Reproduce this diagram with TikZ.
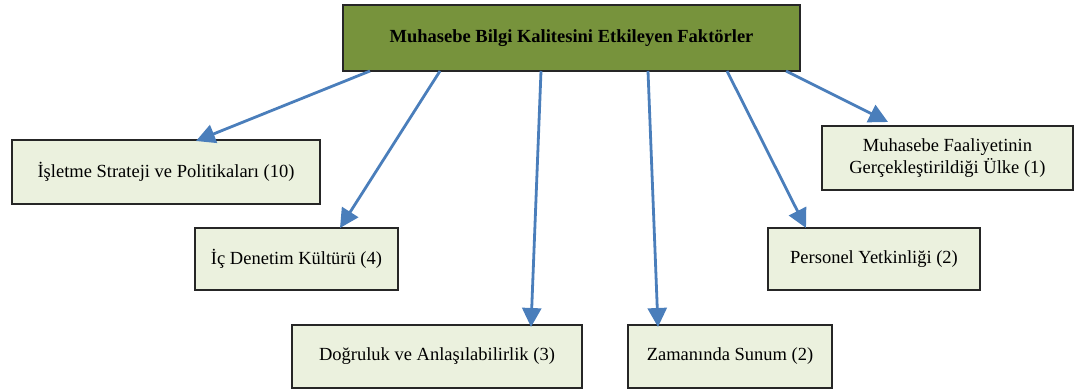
\documentclass[tikz,border=0pt]{standalone}
\usepackage{fontspec}
\setmainfont{Liberation Serif}
\usetikzlibrary{arrows.meta}
\definecolor{olive}{HTML}{77933C}
\definecolor{pale}{HTML}{EBF1DE}
\definecolor{arrblue}{HTML}{4A7EBB}
\begin{document}
\begin{tikzpicture}[x=1pt,y=-1pt,
  boxstyle/.style={draw=black!85,line width=1.1pt,fill=pale,inner sep=0pt,outer sep=0pt,font=\fontsize{18.5}{21.5}\selectfont,align=center},
  topstyle/.style={draw=black!85,line width=1.3pt,fill=olive,inner sep=0pt,outer sep=0pt,font=\bfseries\fontsize{18.5}{21.5}\selectfont},
  arr/.style={draw=arrblue,line width=2.8pt,-{Triangle[length=19pt,width=19pt]}}]
\useasboundingbox (0,0) rectangle (1074,391);
\node[topstyle,minimum width=457pt,minimum height=66pt] (top) at (571.5,38) {Muhasebe Bilgi Kalitesini Etkileyen Faktörler};
\node[boxstyle,minimum width=308pt,minimum height=64pt] (b1) at (166,172) {İşletme Strateji ve Politikaları (10)};
\node[boxstyle,minimum width=203pt,minimum height=62pt] (b2) at (296.5,259) {İç Denetim Kültürü (4)};
\node[boxstyle,minimum width=290pt,minimum height=63pt] (b3) at (437,356.5) {Doğruluk ve Anlaşılabilirlik (3)};
\node[boxstyle,minimum width=204pt,minimum height=63pt] (b4) at (730,356.5) {Zamanında Sunum (2)};
\node[boxstyle,minimum width=212pt,minimum height=62pt] (b5) at (874,259) {Personel Yetkinliği (2)};
\node[boxstyle,minimum width=251pt,minimum height=64pt] (b6) at (947.5,158) {Muhasebe Faaliyetinin\\Gerçekleştirildiği Ülke (1)};
\coordinate (s1) at (370,0); \coordinate (e1) at (196,0);
\coordinate (s2) at (440,0); \coordinate (e2) at (340,0);
\coordinate (s3) at (541,0); \coordinate (e3) at (531,0);
\coordinate (s4) at (648,0); \coordinate (e4) at (658,0);
\coordinate (s5) at (727,0); \coordinate (e5) at (806,0);
\coordinate (s6) at (786,0); \coordinate (e6) at (888,0);
\draw[arr] (top.south -| s1) -- ([yshift=-1pt]b1.north -| e1);
\draw[arr] (top.south -| s2) -- (b2.north -| e2);
\draw[arr] (top.south -| s3) -- ([yshift=-2pt]b3.north -| e3);
\draw[arr] (top.south -| s4) -- ([yshift=-2pt]b4.north -| e4);
\draw[arr] (top.south -| s5) -- (b5.north -| e5);
\draw[arr] (top.south -| s6) -- ([yshift=4pt]b6.north -| e6);
\end{tikzpicture}
\end{document}
